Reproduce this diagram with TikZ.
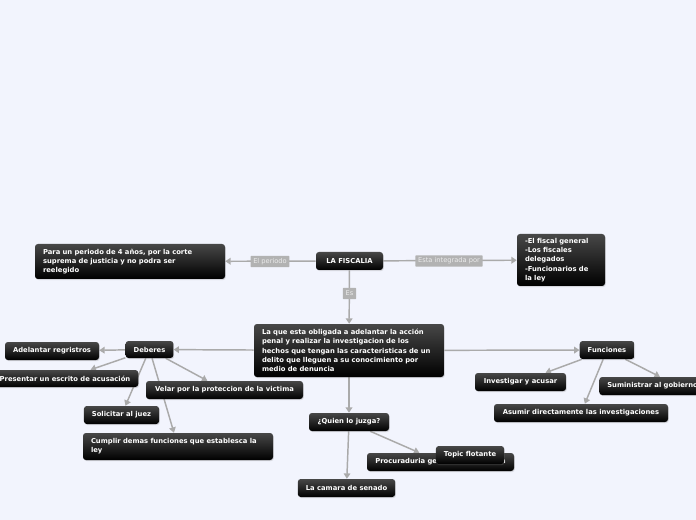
\documentclass[tikz,border=0pt]{standalone}
\usepackage{fontspec}
\setmainfont{DejaVu Sans}
\usetikzlibrary{arrows.meta,shadows}
\definecolor{bgc}{HTML}{F2F4FD}
\definecolor{edgec}{HTML}{AAAAAA}
\definecolor{lblc}{HTML}{B2B2B2}
\pgfdeclarelayer{bglayer}
\pgfdeclarelayer{edgelayer}
\pgfsetlayers{bglayer,edgelayer,main}
\tikzset{
 topic/.style={rounded corners=2.2pt, top color=black!72, middle color=black!92, bottom color=black,
   text=white, font=\fontsize{5.1pt}{6.9pt}\selectfont\bfseries, inner xsep=6pt, inner ysep=2pt,
   drop shadow={opacity=0.25,shadow xshift=0.6pt,shadow yshift=-0.8pt}, minimum height=13.5pt},
 ml/.style={align=left, text width=#1},
 lbl/.style={fill=lblc, text=white!92!black, font=\fontsize{5pt}{6pt}\selectfont,
   inner xsep=2pt, inner ysep=1pt, minimum height=8.5pt, rounded corners=0.5pt},
 conn/.style={draw=edgec, line width=1.1pt, -{Triangle[width=5pt,length=4pt]}}
}
\begin{document}
\begin{tikzpicture}[x=0.75pt,y=-0.75pt]
\useasboundingbox (0,0) rectangle (696,520);
\begin{pgfonlayer}{bglayer}
\fill[bgc] (0,0) rectangle (696,520);
\end{pgfonlayer}

\node[topic, minimum width=50.25pt] (fisc) at (349.5,261) {LA FISCALIA};
\node[topic, ml=130.5pt, minimum height=26.25pt] (para) at (130,261.5)
  {Para un periodo de 4 años, por la corte\\suprema de justicia y no podra ser\\reelegido};
\node[topic, ml=54pt, minimum height=39pt] (integ) at (561,260)
  {-El fiscal general\\-Los fiscales\\delegados\\-Funcionarios de\\la ley};
\node[topic, ml=130.5pt, minimum height=39.75pt] (main) at (349,350.5)
  {La que esta obligada a adelantar la acción\\penal y realizar la investigacion de los\\hechos que tengan las caracteristicas de un\\delito que lleguen a su conocimiento por\\medio de denuncia};
\node[topic, minimum width=35.25pt, minimum height=12.75pt] (deberes) at (149.5,349.5) {Deberes};
\node[topic, minimum width=70.5pt] (adel) at (52,351) {Adelantar regristros};
\node[topic, minimum width=109.5pt, minimum height=12.75pt] (pres) at (65,378.5) {Presentar un escrito de acusación};
\node[topic, minimum width=117.75pt] (velar) at (224.5,390) {Velar por la proteccion de la victima};
\node[topic, minimum width=56.25pt] (solic) at (121.5,415) {Solicitar al juez};
\node[topic, ml=130.5pt, minimum height=20.25pt] (cumpl) at (178,446.5)
  {Cumplir demas funciones que establesca la\\ley};
\node[topic, minimum width=60pt] (quien) at (349,422) {¿Quien lo juzga?};
\node[topic, minimum width=110.25pt] (procu) at (440.5,462) {Procuraduria general de la nacion};
\node[topic, minimum width=51pt] (flot) at (470,455) {Topic flotante};
\node[topic, minimum width=72.75pt] (camara) at (346.5,488) {La camara de senado};
\node[topic, minimum width=40.5pt] (func) at (607,350) {Funciones};
\node[topic, minimum width=68.25pt] (invest) at (520.5,382) {Investigar y acusar};
\node[topic, anchor=west, ml=106.5pt] (sumin) at (599,386) {Suministrar al gobierno};
\node[topic, minimum width=130.5pt] (asumir) at (581,413) {Asumir directamente las investigaciones};

\node[lbl] (lper) at (270,261.5) {El periodo};
\node[lbl] (lint) at (449,261) {Esta integrada por};
\node[lbl] (les) at (349.5,293.5) {Es};

\begin{pgfonlayer}{edgelayer}
\draw[conn] (fisc) -- (para);
\draw[conn] (fisc) -- (integ);
\draw[conn] (fisc) -- (main);
\draw[conn] (main) -- (deberes);
\draw[conn] (main) -- (func);
\draw[conn] (main) -- (quien);
\draw[conn] (deberes) -- (adel);
\draw[conn] (deberes) -- (pres);
\draw[conn] (deberes) -- (velar);
\draw[conn] (deberes) -- (solic);
\draw[conn] (deberes) -- (cumpl);
\draw[conn] (quien) -- (camara);
\draw[conn] (quien) -- (procu);
\draw[conn] (func) -- (invest);
\draw[conn] (func) -- (sumin);
\draw[conn] (func) -- (asumir);
\end{pgfonlayer}
\end{tikzpicture}
\end{document}
